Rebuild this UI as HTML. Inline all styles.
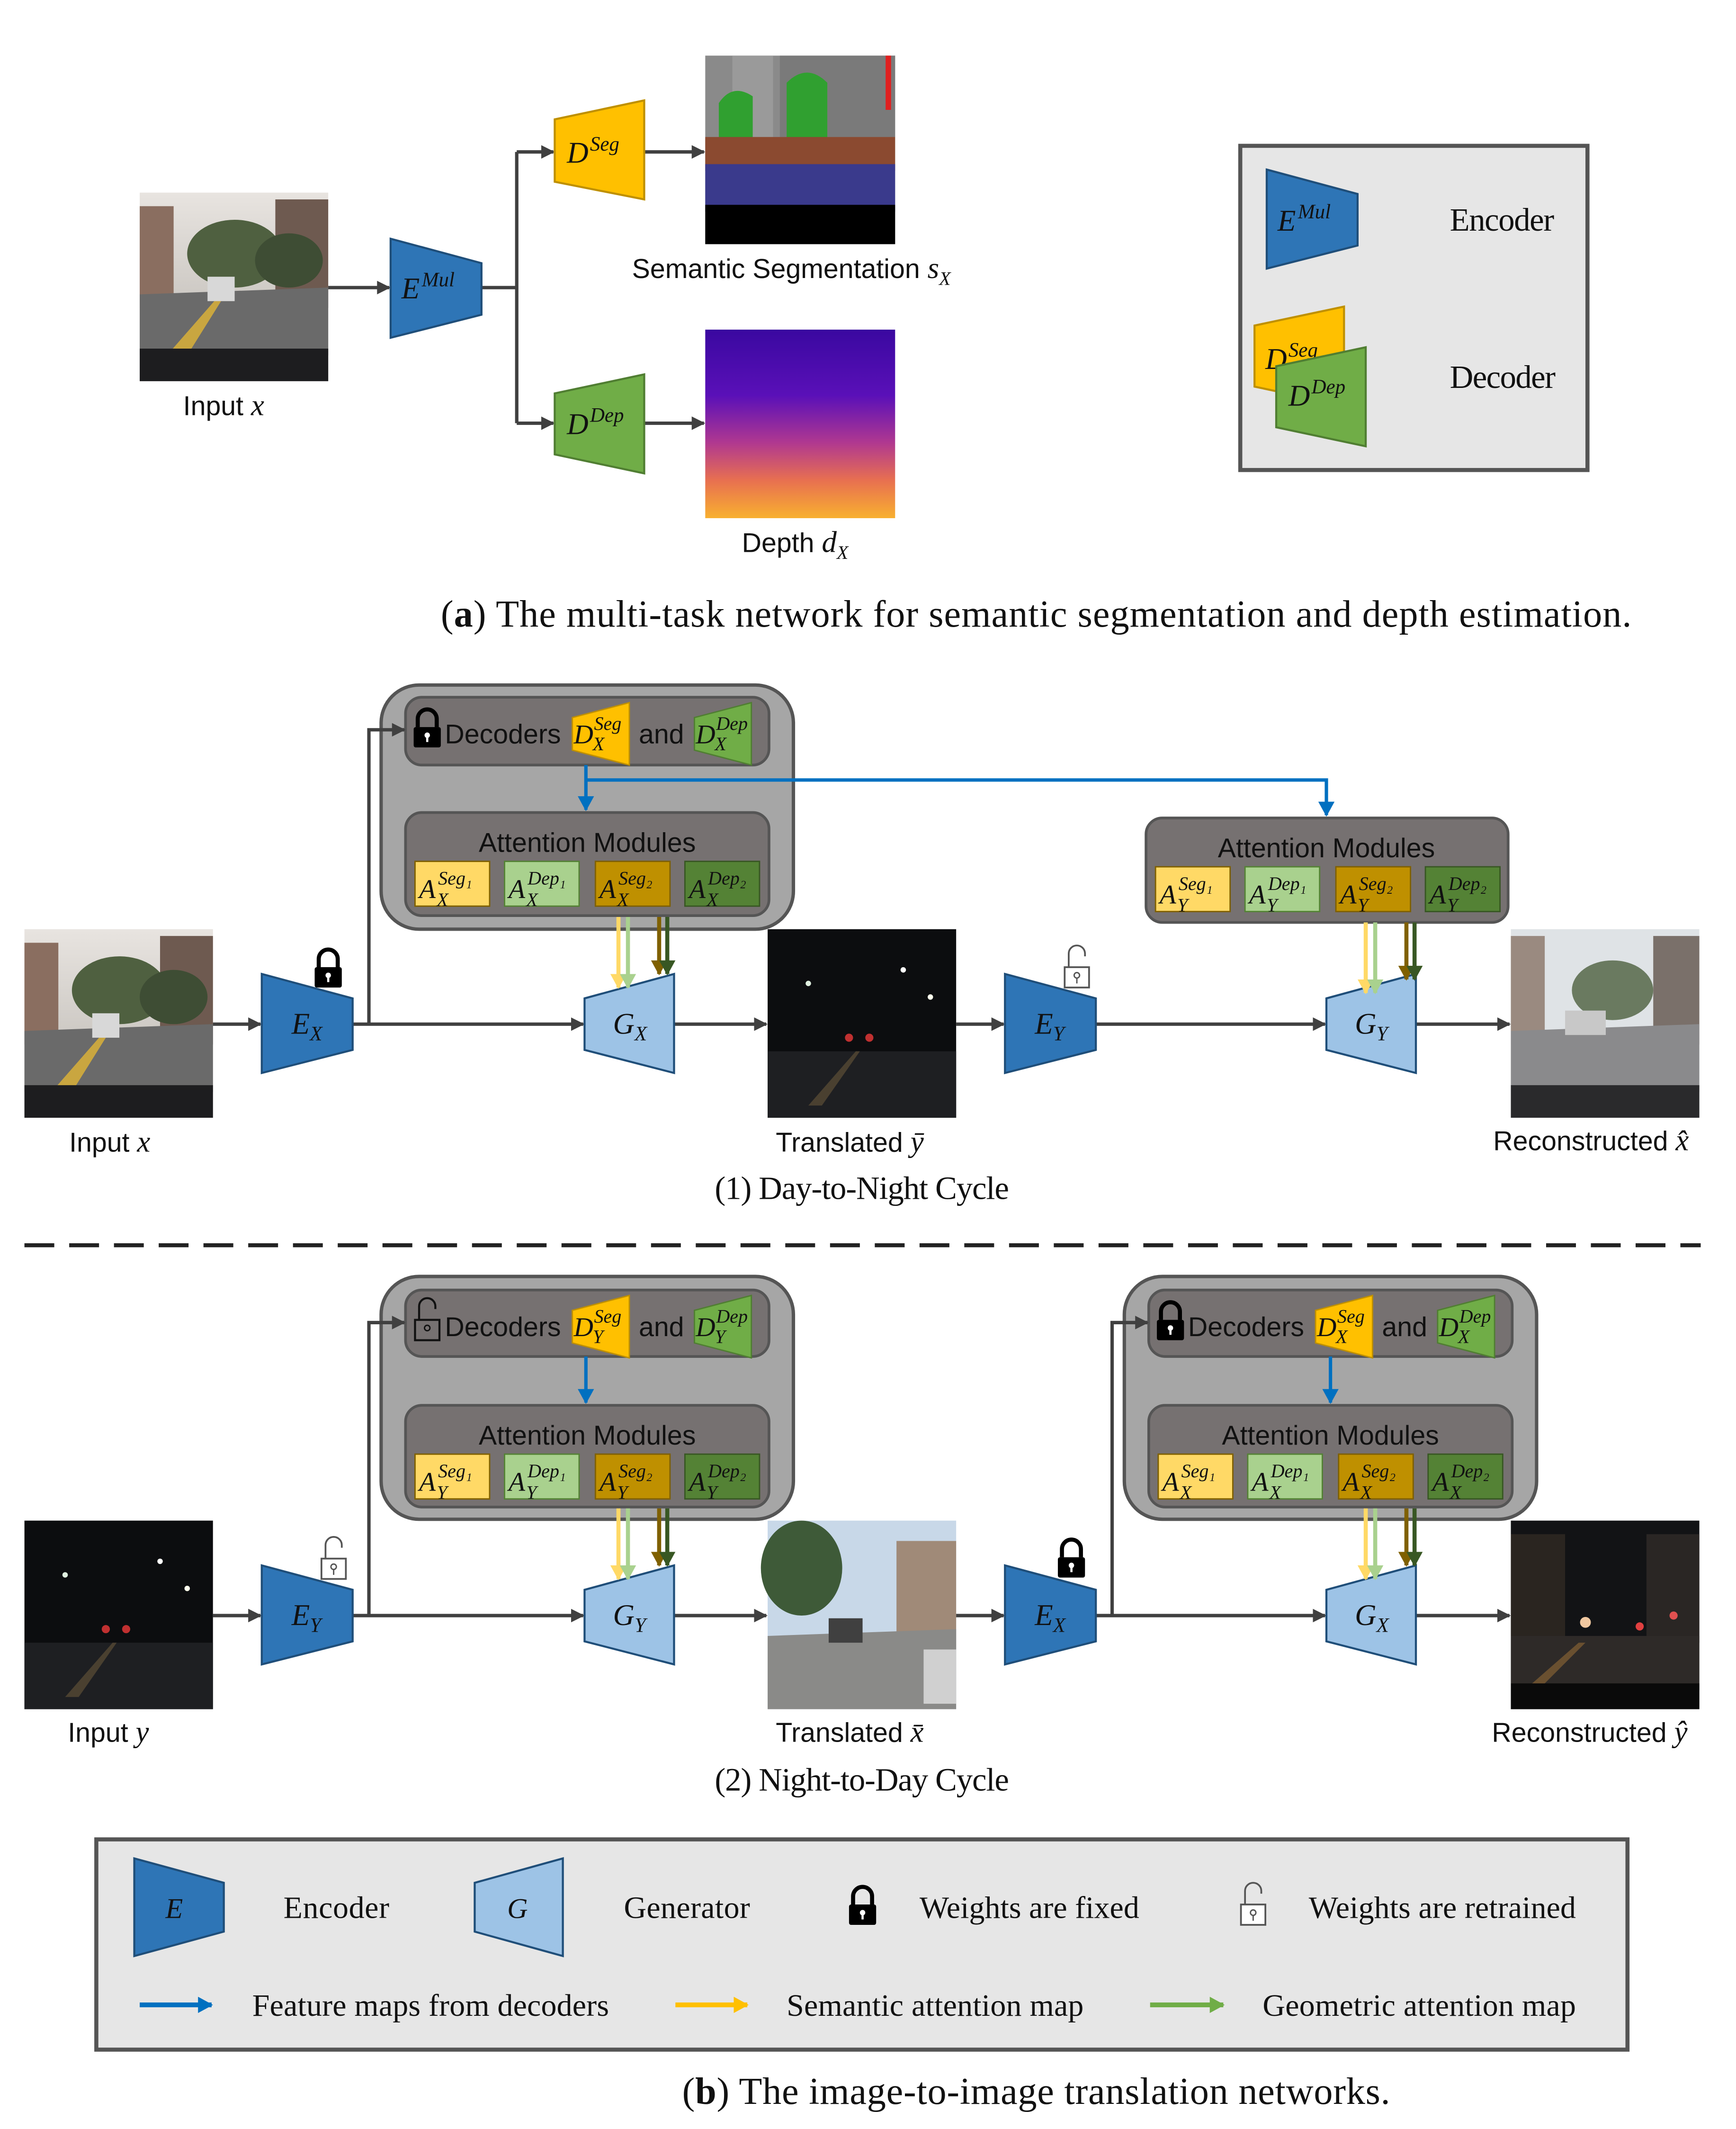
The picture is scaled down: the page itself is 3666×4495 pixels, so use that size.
<!DOCTYPE html>
<html><head><meta charset="utf-8"><style>
html,body{margin:0;padding:0;background:#fff}
svg{display:block}
.s{font-family:"Liberation Sans",sans-serif;fill:#111}
.r{font-family:"Liberation Serif",serif;fill:#111}
.m{font-family:"Liberation Serif",serif;font-style:italic;fill:#111}
</style></head><body>
<svg width="3666" height="4495" viewBox="0 0 1280 1569.5" xmlns="http://www.w3.org/2000/svg">
<defs>
<marker id="ah" markerWidth="10" markerHeight="10" refX="9" refY="5" orient="auto" markerUnits="userSpaceOnUse"><path d="M0,0 L10,5 L0,10z" fill="#404040"/></marker>
<marker id="ab" markerWidth="12" markerHeight="12" refX="10" refY="6" orient="auto" markerUnits="userSpaceOnUse"><path d="M0,0 L11,6 L0,12z" fill="#0070C0"/></marker>
<marker id="ay" markerWidth="12" markerHeight="12" refX="10" refY="6" orient="auto" markerUnits="userSpaceOnUse"><path d="M0,0 L11,6 L0,12z" fill="#FFD966"/></marker>
<marker id="ay2" markerWidth="12" markerHeight="12" refX="10" refY="6" orient="auto" markerUnits="userSpaceOnUse"><path d="M0,0 L11,6 L0,12z" fill="#FFC000"/></marker>
<marker id="ag" markerWidth="12" markerHeight="12" refX="10" refY="6" orient="auto" markerUnits="userSpaceOnUse"><path d="M0,0 L11,6 L0,12z" fill="#A9D18E"/></marker>
<marker id="ag2" markerWidth="12" markerHeight="12" refX="10" refY="6" orient="auto" markerUnits="userSpaceOnUse"><path d="M0,0 L11,6 L0,12z" fill="#70AD47"/></marker>
<marker id="ad" markerWidth="12" markerHeight="12" refX="10" refY="6" orient="auto" markerUnits="userSpaceOnUse"><path d="M0,0 L11,6 L0,12z" fill="#7F6000"/></marker>
<marker id="ae" markerWidth="12" markerHeight="12" refX="10" refY="6" orient="auto" markerUnits="userSpaceOnUse"><path d="M0,0 L11,6 L0,12z" fill="#385723"/></marker>
<linearGradient id="sky" x1="0" y1="0" x2="0" y2="1"><stop offset="0" stop-color="#e8e4e0"/><stop offset="1" stop-color="#b8b4ae"/></linearGradient>
<linearGradient id="dep" x1="0" y1="0" x2="0" y2="1"><stop offset="0" stop-color="#3a08a0"/><stop offset="0.35" stop-color="#5a10b8"/><stop offset="0.6" stop-color="#b03890"/><stop offset="0.8" stop-color="#e87050"/><stop offset="1" stop-color="#f8b030"/></linearGradient>
<g id="day">
<rect width="139" height="139" fill="url(#sky)"/>
<rect x="0" y="10" width="25" height="75" fill="#8a6e60"/>
<rect x="100" y="5" width="39" height="80" fill="#6e5a50"/>
<ellipse cx="70" cy="45" rx="35" ry="25" fill="#4f6040"/>
<ellipse cx="110" cy="50" rx="25" ry="20" fill="#3e4d34"/>
<polygon points="0,75 139,70 139,120 0,120" fill="#6a6a6a"/>
<polygon points="20,120 55,80 60,80 35,120" fill="#c9a640"/>
<rect x="50" y="62" width="20" height="18" fill="#d8d8d8"/>
<rect x="0" y="115" width="139" height="24" fill="#1d1d1f"/>
</g>
<g id="night">
<rect width="139" height="139" fill="#0c0d0f"/>
<polygon points="0,90 139,90 139,139 0,139" fill="#1e1f22"/>
<circle cx="30" cy="40" r="2" fill="#e0f0e0"/><circle cx="100" cy="30" r="2" fill="#fff"/><circle cx="120" cy="50" r="2" fill="#ffe"/>
<circle cx="60" cy="80" r="3" fill="#c03030"/><circle cx="75" cy="80" r="3" fill="#c03030"/>
<polygon points="30,130 65,90 68,90 40,130" fill="#4a4030"/>
</g>
<g id="nightb">
<rect width="139" height="139" fill="#121315"/>
<rect x="0" y="10" width="40" height="80" fill="#2a2520"/>
<rect x="100" y="10" width="39" height="80" fill="#2a2624"/>
<polygon points="0,85 139,85 139,125 0,125" fill="#2e2a28"/>
<circle cx="55" cy="75" r="4" fill="#f0c8a0"/><circle cx="95" cy="78" r="3" fill="#e04040"/><circle cx="120" cy="70" r="3" fill="#e05050"/>
<polygon points="10,125 50,90 55,90 20,125" fill="#6a5030"/>
<rect x="0" y="120" width="139" height="19" fill="#0a0a0a"/>
</g>
<g id="recday">
<rect width="139" height="139" fill="#dfe3e6"/>
<rect x="0" y="5" width="25" height="80" fill="#9a8a80"/>
<rect x="105" y="5" width="34" height="80" fill="#7a706a"/>
<ellipse cx="75" cy="45" rx="30" ry="22" fill="#6a7a60"/>
<polygon points="0,75 139,70 139,120 0,120" fill="#8a8a8c"/>
<rect x="40" y="60" width="30" height="18" fill="#c8c8c8"/>
<rect x="0" y="115" width="139" height="24" fill="#2a2a2c"/>
</g>
<g id="transday">
<rect width="139" height="139" fill="#c8d8e8"/>
<ellipse cx="25" cy="35" rx="30" ry="35" fill="#3e5a38"/>
<rect x="95" y="15" width="44" height="80" fill="#a08a78"/>
<polygon points="0,85 139,80 139,139 0,139" fill="#8a8a88"/>
<rect x="45" y="72" width="25" height="18" fill="#404040"/>
<rect x="115" y="95" width="24" height="40" fill="#d0d0d0"/>
</g>
<polygon id="enc" points="0,0 67,18 67,56 0,73" fill="#2E75B6" stroke="#1F4E79" stroke-width="1.5"/>
<polygon id="gen" points="0,18 66,0 66,73 0,56" fill="#9DC3E6" stroke="#1F4E79" stroke-width="1.5"/>
<g id="lock"><path d="M-7,0 v-6 a7,7 0 0 1 14,0 v6" fill="none" stroke="#000" stroke-width="3"/><rect x="-10" y="0" width="20" height="15" rx="1.5" fill="#000"/><circle cx="0" cy="6" r="2" fill="#fff"/><rect x="-0.8" y="6" width="1.6" height="5" fill="#fff"/></g>
<g id="olock"><path d="M-6,0 v-10 a6,6 0 0 1 12,0 v2" fill="none" stroke="#555" stroke-width="1.3"/><rect x="-9" y="0" width="18" height="15" fill="#fff" stroke="#555" stroke-width="1.3"/><circle cx="0" cy="6" r="2" fill="none" stroke="#555" stroke-width="1"/><line x1="0" y1="8" x2="0" y2="12" stroke="#555"/></g>
<g id="olockd"><path d="M-6,0 v-10 a6,6 0 0 1 12,0 v2" fill="none" stroke="#111" stroke-width="1.5"/><rect x="-9" y="0" width="18" height="15" fill="none" stroke="#111" stroke-width="1.5"/><circle cx="0" cy="6" r="2" fill="none" stroke="#111"/></g>
<g id="att1">
<rect x="306" y="635" width="55" height="33" fill="#FFD966" stroke="#7F6000"/>
<rect x="372" y="635" width="55" height="33" fill="#A9D18E" stroke="#548235"/>
<rect x="439" y="635" width="55" height="33" fill="#BF9000" stroke="#7F6000"/>
<rect x="505" y="635" width="55" height="33" fill="#548235" stroke="#385723"/>
</g>
<g id="attlab" class="m">
<text x="309" y="662" font-size="20">A</text><text x="323" y="652" font-size="14">Seg₁</text>
<text x="375" y="662" font-size="20">A</text><text x="389" y="652" font-size="14">Dep₁</text>
<text x="442" y="662" font-size="20">A</text><text x="456" y="652" font-size="14">Seg₂</text>
<text x="508" y="662" font-size="20">A</text><text x="522" y="652" font-size="14">Dep₂</text>
</g>
<g id="subX" class="m" font-size="14">
<text x="322" y="668">X</text><text x="388" y="668">X</text><text x="455" y="668">X</text><text x="521" y="668">X</text>
</g>
<g id="subY" class="m" font-size="14">
<text x="322" y="668">Y</text><text x="388" y="668">Y</text><text x="455" y="668">Y</text><text x="521" y="668">Y</text>
</g>
<g id="att_arrows" stroke-width="3" fill="none">
<line x1="456" y1="676" x2="456" y2="728" stroke="#FFD966" marker-end="url(#ay)"/>
<line x1="463" y1="676" x2="463" y2="728" stroke="#A9D18E" marker-end="url(#ag)"/>
<line x1="486" y1="676" x2="486" y2="718" stroke="#7F6000" marker-end="url(#ad)"/>
<line x1="492" y1="676" x2="492" y2="718" stroke="#385723" marker-end="url(#ae)"/>
</g>
<g id="decpair">
<polygon points="422,529 464,518 464,564 422,553" fill="#FFC000" stroke="#BF9000"/>
<text class="m" x="423" y="548" font-size="20">D</text><text class="m" x="438" y="538" font-size="14">Seg</text>
<text class="s" x="471" y="548" font-size="20">and</text>
<polygon points="512,529 554,518 554,564 512,553" fill="#70AD47" stroke="#507E32"/>
<text class="m" x="513" y="548" font-size="20">D</text><text class="m" x="528" y="538" font-size="14">Dep</text>
</g>
</defs>

<!-- ===== Part (a) ===== -->
<use href="#day" x="103" y="142"/>
<text class="s" x="135" y="306" font-size="20">Input <tspan class="m" font-size="22">x</tspan></text>
<g stroke="#404040" stroke-width="2.5" fill="none">
<line x1="242" y1="212" x2="287" y2="212" marker-end="url(#ah)"/>
<polyline points="353,212 381,212"/>
<line x1="381" y1="112" x2="381" y2="312"/>
<line x1="381" y1="112" x2="408" y2="112" marker-end="url(#ah)"/>
<line x1="381" y1="312" x2="408" y2="312" marker-end="url(#ah)"/>
<line x1="475" y1="112" x2="519" y2="112" marker-end="url(#ah)"/>
<line x1="475" y1="312" x2="519" y2="312" marker-end="url(#ah)"/>
</g>
<use href="#enc" x="288" y="176"/>
<text class="m" x="296" y="220" font-size="22">E</text><text class="m" x="311" y="211" font-size="15">Mul</text>
<polygon points="409,88 475,74 475,147 409,134" fill="#FFC000" stroke="#BF9000" stroke-width="1.5"/>
<text class="m" x="418" y="120" font-size="22">D</text><text class="m" x="435" y="111" font-size="15">Seg</text>
<polygon points="409,290 475,276 475,349 409,335" fill="#70AD47" stroke="#507E32" stroke-width="1.5"/>
<text class="m" x="418" y="320" font-size="22">D</text><text class="m" x="435" y="311" font-size="15">Dep</text>
<g transform="translate(520,41)">
<rect width="140" height="139" fill="#8a8a8a"/>
<rect x="55" y="0" width="85" height="60" fill="#7a7a7a"/>
<rect x="20" y="0" width="30" height="70" fill="#9a9a9a"/>
<path d="M10,35 q10,-15 25,-5 l0,30 l-25,5z" fill="#30a030"/>
<path d="M60,20 q15,-15 30,0 l0,50 l-30,5z" fill="#30a030"/>
<rect x="0" y="60" width="140" height="25" fill="#8B4A30"/>
<rect x="0" y="80" width="140" height="35" fill="#3a3a8c"/>
<rect x="0" y="110" width="140" height="29" fill="#000"/>
<rect x="133" y="0" width="4" height="40" fill="#e02020"/>
</g>
<text class="s" x="466" y="205" font-size="20">Semantic Segmentation <tspan class="m" font-size="22">s</tspan><tspan class="m" font-size="14" dy="5">X</tspan></text>
<rect x="520" y="243" width="140" height="139" fill="url(#dep)"/>
<text class="s" x="547" y="407" font-size="20">Depth <tspan class="m" font-size="22">d</tspan><tspan class="m" font-size="14" dy="5">X</tspan></text>
<rect x="914.5" y="107.5" width="256" height="239" fill="#e6e6e6" stroke="#555" stroke-width="3"/>
<use href="#enc" x="934" y="125"/>
<text class="m" x="942" y="170" font-size="22">E</text><text class="m" x="957" y="161" font-size="15">Mul</text>
<text class="r" x="1069" y="170" font-size="24" textLength="77">Encoder</text>
<polygon points="925,240 991,226 991,299 925,285" fill="#FFC000" stroke="#BF9000" stroke-width="1.5"/>
<text class="m" x="933" y="272" font-size="22">D</text><text class="m" x="950" y="263" font-size="15">Seg</text>
<polygon points="941,270 1007,256 1007,329 941,315" fill="#70AD47" stroke="#507E32" stroke-width="1.5"/>
<text class="m" x="950" y="299" font-size="22">D</text><text class="m" x="967" y="290" font-size="15">Dep</text>
<text class="r" x="1069" y="286" font-size="24" textLength="78">Decoder</text>
<text class="r" x="325" y="462" font-size="28" textLength="878">(<tspan font-weight="bold">a</tspan>) The multi-task network for semantic segmentation and depth estimation.</text>

<!-- ===== Cycle 1 ===== -->
<rect x="281" y="505" width="304" height="180" rx="28" fill="#a6a6a6" stroke="#555" stroke-width="2.5"/>
<rect x="299" y="514" width="268" height="50" rx="12" fill="#767171" stroke="#555" stroke-width="2"/>
<use href="#lock" x="315" y="536"/>
<text class="s" x="328" y="548" font-size="20">Decoders</text>
<use href="#decpair"/>
<g class="m" font-size="14"><text x="437" y="553">X</text><text x="527" y="553">X</text></g>
<rect x="299" y="599" width="268" height="76" rx="12" fill="#767171" stroke="#555" stroke-width="2"/>
<text class="s" x="433" y="628" font-size="20" text-anchor="middle">Attention Modules</text>
<use href="#att1"/><use href="#attlab"/><use href="#subX"/>
<rect x="845" y="603" width="267" height="77" rx="12" fill="#767171" stroke="#555" stroke-width="2"/>
<text class="s" x="978" y="632" font-size="20" text-anchor="middle">Attention Modules</text>
<use href="#att1" x="546" y="4"/><use href="#attlab" x="546" y="4"/><use href="#subY" x="546" y="4"/>
<g stroke="#0070C0" stroke-width="2.5" fill="none">
<line x1="432" y1="564" x2="432" y2="597" marker-end="url(#ab)"/>
<polyline points="432,575 978,575 978,601" marker-end="url(#ab)"/>
</g>
<use href="#day" x="18" y="685"/>
<text class="s" x="51" y="849" font-size="20">Input <tspan class="m" font-size="22">x</tspan></text>
<use href="#night" x="566" y="685"/>
<text class="s" x="572" y="849" font-size="20">Translated <tspan class="m" font-size="22">ȳ</tspan></text>
<use href="#recday" x="1114" y="685"/>
<text class="s" x="1101" y="848" font-size="20">Reconstructed <tspan class="m" font-size="22">x̂</tspan></text>
<g stroke="#404040" stroke-width="2.5" fill="none">
<line x1="157" y1="755" x2="192" y2="755" marker-end="url(#ah)"/>
<line x1="260" y1="755" x2="430" y2="755" marker-end="url(#ah)"/>
<polyline points="272,755 272,538 298,538" marker-end="url(#ah)"/>
<line x1="497" y1="755" x2="565" y2="755" marker-end="url(#ah)"/>
<line x1="705" y1="755" x2="740" y2="755" marker-end="url(#ah)"/>
<line x1="808" y1="755" x2="977" y2="755" marker-end="url(#ah)"/>
<line x1="1044" y1="755" x2="1113" y2="755" marker-end="url(#ah)"/>
</g>
<use href="#enc" x="193" y="718"/>
<text class="m" x="215" y="762" font-size="22">E<tspan font-size="15" dy="5">X</tspan></text>
<use href="#lock" x="242" y="713"/>
<use href="#gen" x="431" y="718"/>
<text class="m" x="452" y="762" font-size="22">G<tspan font-size="15" dy="5">X</tspan></text>
<use href="#enc" x="741" y="718"/>
<text class="m" x="763" y="762" font-size="22">E<tspan font-size="15" dy="5">Y</tspan></text>
<use href="#olock" x="794" y="713"/>
<use href="#gen" x="978" y="718"/>
<text class="m" x="999" y="762" font-size="22">G<tspan font-size="15" dy="5">Y</tspan></text>
<use href="#att_arrows"/>
<use href="#att_arrows" x="551" y="4"/>
<text class="r" x="527" y="884" font-size="24" textLength="217">(1) Day-to-Night Cycle</text>
<line x1="18" y1="918" x2="1254" y2="918" stroke="#222" stroke-width="3" stroke-dasharray="22,11"/>

<!-- ===== Cycle 2 ===== -->
<rect x="281" y="941" width="304" height="179" rx="28" fill="#a6a6a6" stroke="#555" stroke-width="2.5"/>
<rect x="299" y="951" width="268" height="49" rx="12" fill="#767171" stroke="#555" stroke-width="2"/>
<use href="#olockd" x="315" y="973"/>
<text class="s" x="328" y="985" font-size="20">Decoders</text>
<use href="#decpair" y="437"/>
<g class="m" font-size="14"><text x="437" y="990">Y</text><text x="527" y="990">Y</text></g>
<rect x="299" y="1036" width="268" height="75" rx="12" fill="#767171" stroke="#555" stroke-width="2"/>
<text class="s" x="433" y="1065" font-size="20" text-anchor="middle">Attention Modules</text>
<use href="#att1" y="437"/><use href="#attlab" y="437"/><use href="#subY" y="437"/>

<rect x="829" y="941" width="304" height="179" rx="28" fill="#a6a6a6" stroke="#555" stroke-width="2.5"/>
<rect x="847" y="951" width="268" height="49" rx="12" fill="#767171" stroke="#555" stroke-width="2"/>
<use href="#lock" x="863" y="973"/>
<text class="s" x="876" y="985" font-size="20">Decoders</text>
<use href="#decpair" x="548" y="437"/>
<g class="m" font-size="14"><text x="985" y="990">X</text><text x="1075" y="990">X</text></g>
<rect x="847" y="1036" width="268" height="75" rx="12" fill="#767171" stroke="#555" stroke-width="2"/>
<text class="s" x="981" y="1065" font-size="20" text-anchor="middle">Attention Modules</text>
<use href="#att1" x="548" y="437"/><use href="#attlab" x="548" y="437"/><use href="#subX" x="548" y="437"/>
<g stroke="#0070C0" stroke-width="2.5" fill="none">
<line x1="432" y1="1000" x2="432" y2="1034" marker-end="url(#ab)"/>
<line x1="981" y1="1000" x2="981" y2="1034" marker-end="url(#ab)"/>
</g>
<use href="#night" x="18" y="1121"/>
<text class="s" x="50" y="1284" font-size="20">Input <tspan class="m" font-size="22">y</tspan></text>
<use href="#transday" x="566" y="1121"/>
<text class="s" x="572" y="1284" font-size="20">Translated <tspan class="m" font-size="22">x̄</tspan></text>
<use href="#nightb" x="1114" y="1121"/>
<text class="s" x="1100" y="1284" font-size="20">Reconstructed <tspan class="m" font-size="22">ŷ</tspan></text>
<g stroke="#404040" stroke-width="2.5" fill="none">
<line x1="157" y1="1191" x2="192" y2="1191" marker-end="url(#ah)"/>
<line x1="260" y1="1191" x2="430" y2="1191" marker-end="url(#ah)"/>
<polyline points="272,1191 272,975 298,975" marker-end="url(#ah)"/>
<line x1="497" y1="1191" x2="565" y2="1191" marker-end="url(#ah)"/>
<line x1="705" y1="1191" x2="740" y2="1191" marker-end="url(#ah)"/>
<line x1="808" y1="1191" x2="977" y2="1191" marker-end="url(#ah)"/>
<polyline points="820,1191 820,975 846,975" marker-end="url(#ah)"/>
<line x1="1044" y1="1191" x2="1113" y2="1191" marker-end="url(#ah)"/>
</g>
<use href="#enc" x="193" y="1154"/>
<text class="m" x="215" y="1198" font-size="22">E<tspan font-size="15" dy="5">Y</tspan></text>
<use href="#olock" x="246" y="1149"/>
<use href="#gen" x="431" y="1154"/>
<text class="m" x="452" y="1198" font-size="22">G<tspan font-size="15" dy="5">Y</tspan></text>
<use href="#enc" x="741" y="1154"/>
<text class="m" x="763" y="1198" font-size="22">E<tspan font-size="15" dy="5">X</tspan></text>
<use href="#lock" x="790" y="1148"/>
<use href="#gen" x="978" y="1154"/>
<text class="m" x="999" y="1198" font-size="22">G<tspan font-size="15" dy="5">X</tspan></text>
<use href="#att_arrows" x="0" y="436"/>
<use href="#att_arrows" x="551" y="436"/>
<text class="r" x="527" y="1320" font-size="24" textLength="217">(2) Night-to-Day Cycle</text>

<!-- ===== Legend b ===== -->
<rect x="71" y="1356" width="1129" height="155" fill="#e6e6e6" stroke="#555" stroke-width="3"/>
<polygon points="99,1370 165,1388 165,1424 99,1442" fill="#2E75B6" stroke="#1F4E79" stroke-width="1.5"/>
<text class="m" x="122" y="1414" font-size="21">E</text>
<text class="r" x="209" y="1414" font-size="23" textLength="78">Encoder</text>
<polygon points="350,1388 415,1370 415,1442 350,1424" fill="#9DC3E6" stroke="#1F4E79" stroke-width="1.5"/>
<text class="m" x="374" y="1414" font-size="21">G</text>
<text class="r" x="460" y="1414" font-size="23" textLength="93">Generator</text>
<use href="#lock" x="636" y="1404"/>
<text class="r" x="678" y="1414" font-size="23" textLength="162">Weights are fixed</text>
<use href="#olock" x="924" y="1404"/>
<text class="r" x="965" y="1414" font-size="23" textLength="197">Weights are retrained</text>
<g stroke-width="3.5" fill="none">
<line x1="103" y1="1478" x2="156" y2="1478" stroke="#0070C0" marker-end="url(#ab)"/>
<line x1="498" y1="1478" x2="551" y2="1478" stroke="#FFC000" marker-end="url(#ay2)"/>
<line x1="848" y1="1478" x2="902" y2="1478" stroke="#70AD47" marker-end="url(#ag2)"/>
</g>
<text class="r" x="186" y="1486" font-size="23" textLength="263">Feature maps from decoders</text>
<text class="r" x="580" y="1486" font-size="23" textLength="219">Semantic attention map</text>
<text class="r" x="931" y="1486" font-size="23" textLength="231">Geometric attention map</text>
<text class="r" x="503" y="1551" font-size="28" textLength="522">(<tspan font-weight="bold">b</tspan>) The image-to-image translation networks.</text>
</svg>
</body></html>
